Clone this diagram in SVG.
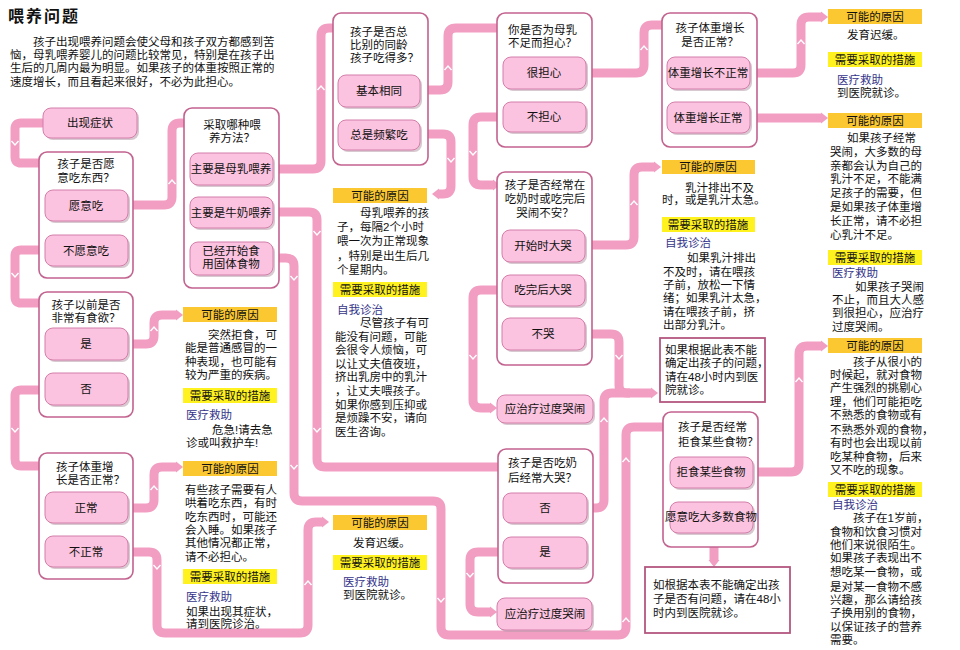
<svg xmlns="http://www.w3.org/2000/svg" width="960" height="650" viewBox="0 0 960 650">
<defs>
<style>
.t{font-family:"Liberation Sans","Noto Sans CJK SC",sans-serif;font-size:11.5px;fill:#111}
.c{text-anchor:middle}
.h{font-family:"Liberation Serif","Noto Sans CJK SC",serif;font-size:16px;font-weight:bold;letter-spacing:2px;fill:#111}
.bl{fill:#34348a}
.box{fill:#fff;stroke:#c2628e;stroke-width:1.6}
.nb{fill:#fff;stroke:#b4577f;stroke-width:1.8}
.btn{fill:#fbc3df;stroke:#d47fab;stroke-width:1}
.sh{fill:#b89aaa;opacity:.55}
.l1{fill:#fbc832}
.l2{fill:#fff21f}
.cn{fill:none;stroke:#f19ec2;stroke-width:9;marker-end:url(#ah)}
.cx{fill:none;stroke:#f19ec2;stroke-width:9}
.ch{fill:none;stroke:#fff;stroke-width:1.4}
</style>
<marker id="ah" markerUnits="userSpaceOnUse" markerWidth="8" markerHeight="12" refX="0" refY="6" orient="auto"><path d="M0,0.5 L7,6 L0,11.5 Z" fill="#f19ec2"/></marker>
</defs>
<rect width="960" height="650" fill="#fff"/>

<g id="intro">
<text class="h" x="8" y="22">喂养问题</text>
<text class="t" x="33" y="46">孩子出现喂养问题会使父母和孩子双方都感到苦</text>
<text class="t" x="10" y="59">恼，母乳喂养婴儿的问题比较常见，特别是在孩子出</text>
<text class="t" x="10" y="72">生后的几周内最为明显。如果孩子的体重按照正常的</text>
<text class="t" x="10" y="86">速度增长，而且看起来很好，不必为此担心。</text>
</g>

<g id="connectors">
<path class="cn" d="M43,123 H21 Q15,123 15,129 V157 Q15,163 21,163 H49"/>
<path class="cn" d="M45,250 H21 Q15,250 15,256 V297 Q15,303 21,303 H48"/>
<path class="cn" d="M45,390 H21 Q15,390 15,396 V459 Q15,466 21,466 H48"/>
<path class="cn" d="M128,205 H164 Q172,205 172,197 V131 Q172,123 180,123 H187"/>
<path class="cn" d="M128,344 H146 Q154,344 154,336 V323 Q154,315 162,315 H176"/>
<path class="cn" d="M128,508 H146 Q154,508 154,500 V475 Q154,467 162,467 H176"/>
<path class="cn" d="M128,552 H149 Q157,552 157,560 V625 Q157,633 165,633 H300 Q308,633 308,625 V530 Q308,522 316,522 H322"/>
<path class="cn" d="M273,169 H313 Q321,169 321,161 V36 Q321,28 329,28 H336"/>
<path class="cn" d="M273,212 H309 Q317,212 317,220 V459 Q317,467 325,467 H498"/>
<path class="cn" d="M273,258 H286 Q294,258 294,266 V493 Q294,501 302,501 H433 Q441,501 441,509 V627 Q441,635 449,635 H618 Q626,635 626,627 V435 Q626,427 634,427 H666"/>
<path class="cn" d="M420,90 H440 Q448,90 448,82 V36 Q448,28 456,28 H499"/>
<path class="cn" d="M420,134 H443 Q451,134 451,142 V186 Q451,194 443,194 H439"/>
<path class="cn" d="M586,73 H636 Q644,73 644,65 V33 Q644,25 652,25 H661"/>
<path class="cn" d="M503,117 H481 Q473,117 473,125 V177 Q473,185 481,185 H493"/>
<path class="cn" d="M585,245 H626 Q634,245 634,237 V175 Q634,167 642,167 H654"/>
<path class="cn" d="M502,290 H481 Q473,290 473,298 V400 Q473,408 481,408 H490"/>
<path class="cn" d="M585,334 H611 Q619,334 619,342 V385 Q619,393 627,393 H651"/>
<path class="cx" d="M587,508 H596 Q604,508 604,500 V401 Q604,393 612,393 H630"/>
<path class="cn" d="M503,552 H478 Q470,552 470,560 V604 Q470,612 478,612 H490"/>
<path class="cn" d="M750,73 H793 Q801,73 801,65 V25 Q801,17 809,17 H821"/>
<path class="cn" d="M750,118 H821"/>
<path class="cn" d="M753,472 H791 Q799,472 799,464 V354 Q799,346 807,346 H821"/>
<path class="cn" d="M714,533 V560"/>
<g class="ch">
<path d="M11.5,141 L15,145 L18.5,141"/>
<path d="M11.5,273 L15,277 L18.5,273"/>
<path d="M11.5,428 L15,432 L18.5,428"/>
<path d="M168.5,184 L172,180 L175.5,184"/>
<path d="M317.5,90 L321,86 L324.5,90"/>
<path d="M313.5,231 L317,235 L320.5,231"/>
<path d="M290.5,276 L294,280 L297.5,276"/>
<path d="M290.5,465 L294,469 L297.5,465"/>
<path d="M313.5,428 L317,432 L320.5,428"/>
<path d="M304.5,585 L308,581 L311.5,585"/>
<path d="M153.5,565 L157,569 L160.5,565"/>
<path d="M150.5,331 L154,327 L157.5,331"/>
<path d="M150.5,490 L154,486 L157.5,490"/>
<path d="M444.5,70 L448,66 L451.5,70"/>
<path d="M447.5,158 L451,162 L454.5,158"/>
<path d="M469.5,151 L473,155 L476.5,151"/>
<path d="M640.5,50 L644,46 L647.5,50"/>
<path d="M630.5,205 L634,201 L637.5,205"/>
<path d="M469.5,355 L473,359 L476.5,355"/>
<path d="M615.5,355 L619,359 L622.5,355"/>
<path d="M437.5,598 L441,602 L444.5,598"/>
<path d="M622.5,622 L626,618 L629.5,622"/>
<path d="M622.5,462 L626,458 L629.5,462"/>
<path d="M600.5,422 L604,418 L607.5,422"/>
<path d="M466.5,573 L470,577 L473.5,573"/>
<path d="M797.5,44 L801,40 L804.5,44"/>
<path d="M795.5,382 L799,378 L802.5,382"/>
</g>
</g>

<g id="n-start">
<rect class="sh" x="45" y="110" width="94" height="30" rx="8"/>
<rect class="btn" x="43" y="108" width="94" height="30" rx="8"/>
<text class="t c" x="90" y="127">出现症状</text>
</g>

<g id="n-appetite">
<rect class="box" x="39" y="152" width="94" height="126" rx="8"/>
<text class="t c" x="86" y="168">孩子是否愿</text>
<text class="t c" x="86" y="182">意吃东西？</text>
<rect class="sh" x="47" y="192" width="83" height="31" rx="8"/>
<rect class="btn" x="45" y="190" width="83" height="31" rx="8"/>
<text class="t c" x="86" y="210">愿意吃</text>
<rect class="sh" x="47" y="237" width="83" height="31" rx="8"/>
<rect class="btn" x="45" y="235" width="83" height="31" rx="8"/>
<text class="t c" x="86" y="255">不愿意吃</text>
</g>

<g id="n-before">
<rect class="box" x="39" y="292" width="94" height="125" rx="8"/>
<text class="t c" x="86" y="309">孩子以前是否</text>
<text class="t c" x="86" y="322">非常有食欲？</text>
<rect class="sh" x="47" y="330" width="83" height="32" rx="8"/>
<rect class="btn" x="45" y="328" width="83" height="32" rx="8"/>
<text class="t c" x="86" y="348">是</text>
<rect class="sh" x="47" y="375" width="83" height="32" rx="8"/>
<rect class="btn" x="45" y="373" width="83" height="32" rx="8"/>
<text class="t c" x="86" y="393">否</text>
</g>

<g id="n-weight">
<rect class="box" x="39" y="453" width="94" height="126" rx="8"/>
<text class="t" x="56" y="471">孩子体重增</text>
<text class="t" x="56" y="484">长是否正常？</text>
<rect class="sh" x="47" y="494" width="83" height="31" rx="8"/>
<rect class="btn" x="45" y="492" width="83" height="31" rx="8"/>
<text class="t c" x="86" y="512">正常</text>
<rect class="sh" x="47" y="538" width="83" height="31" rx="8"/>
<rect class="btn" x="45" y="536" width="83" height="31" rx="8"/>
<text class="t c" x="86" y="556">不正常</text>
</g>

<g id="n-method">
<rect class="box" x="184" y="108" width="95" height="180" rx="8"/>
<text class="t c" x="232" y="129">采取哪种喂</text>
<text class="t c" x="232" y="142">养方法？</text>
<rect class="sh" x="192" y="155" width="83" height="32" rx="8"/>
<rect class="btn" x="190" y="153" width="83" height="32" rx="8"/>
<text class="t c" x="231" y="173">主要是母乳喂养</text>
<rect class="sh" x="192" y="199" width="83" height="31" rx="8"/>
<rect class="btn" x="190" y="197" width="83" height="31" rx="8"/>
<text class="t c" x="231" y="217">主要是牛奶喂养</text>
<rect class="sh" x="192" y="244" width="83" height="33" rx="8"/>
<rect class="btn" x="190" y="242" width="83" height="33" rx="8"/>
<text class="t c" x="231" y="255">已经开始食</text>
<text class="t c" x="231" y="268">用固体食物</text>
</g>

<g id="n-eatmore">
<rect class="box" x="333" y="13" width="95" height="152" rx="8"/>
<text class="t" x="350" y="36">孩子是否总</text>
<text class="t" x="350" y="49">比别的同龄</text>
<text class="t" x="350" y="62">孩子吃得多？</text>
<rect class="sh" x="340" y="77" width="82" height="32" rx="8"/>
<rect class="btn" x="338" y="75" width="82" height="32" rx="8"/>
<text class="t c" x="379" y="95">基本相同</text>
<rect class="sh" x="340" y="122" width="82" height="30" rx="8"/>
<rect class="btn" x="338" y="120" width="82" height="30" rx="8"/>
<text class="t c" x="379" y="139">总是频繁吃</text>
</g>

<g id="n-worry">
<rect class="box" x="497" y="13" width="95" height="134" rx="8"/>
<text class="t" x="508" y="34">你是否为母乳</text>
<text class="t" x="508" y="47">不足而担心？</text>
<rect class="sh" x="505" y="59" width="83" height="32" rx="8"/>
<rect class="btn" x="503" y="57" width="83" height="32" rx="8"/>
<text class="t c" x="544" y="77">很担心</text>
<rect class="sh" x="505" y="104" width="83" height="30" rx="8"/>
<rect class="btn" x="503" y="102" width="83" height="30" rx="8"/>
<text class="t c" x="544" y="121">不担心</text>
</g>

<g id="n-growth">
<rect class="box" x="662" y="13" width="95" height="134" rx="8"/>
<text class="t c" x="710" y="32">孩子体重增长</text>
<text class="t c" x="710" y="46">是否正常？</text>
<rect class="sh" x="669" y="59" width="83" height="32" rx="8"/>
<rect class="btn" x="667" y="57" width="83" height="32" rx="8"/>
<text class="t c" x="708" y="77">体重增长不正常</text>
<rect class="sh" x="669" y="104" width="83" height="31" rx="8"/>
<rect class="btn" x="667" y="102" width="83" height="31" rx="8"/>
<text class="t c" x="708" y="122">体重增长正常</text>
</g>

<g id="n-crying">
<rect class="box" x="497" y="172" width="95" height="193" rx="8"/>
<text class="t c" x="545" y="189">孩子是否经常在</text>
<text class="t c" x="545" y="203">吃奶时或吃完后</text>
<text class="t c" x="545" y="217">哭闹不安？</text>
<rect class="sh" x="504" y="232" width="83" height="32" rx="8"/>
<rect class="btn" x="502" y="230" width="83" height="32" rx="8"/>
<text class="t c" x="543" y="250">开始时大哭</text>
<rect class="sh" x="504" y="277" width="83" height="31" rx="8"/>
<rect class="btn" x="502" y="275" width="83" height="31" rx="8"/>
<text class="t c" x="543" y="294">吃完后大哭</text>
<rect class="sh" x="504" y="320" width="83" height="32" rx="8"/>
<rect class="btn" x="502" y="318" width="83" height="32" rx="8"/>
<text class="t c" x="543" y="338">不哭</text>
</g>

<g id="n-treat1">
<rect class="sh" x="499" y="397" width="96" height="28" rx="8"/>
<rect class="btn" x="497" y="395" width="96" height="28" rx="8"/>
<text class="t c" x="545" y="413">应治疗过度哭闹</text>
</g>

<g id="n-aftercry">
<rect class="box" x="498" y="449" width="95" height="134" rx="8"/>
<text class="t" x="508" y="467">孩子是否吃奶</text>
<text class="t" x="508" y="482">后经常大哭？</text>
<rect class="sh" x="505" y="495" width="84" height="30" rx="8"/>
<rect class="btn" x="503" y="493" width="84" height="30" rx="8"/>
<text class="t c" x="545" y="512">否</text>
<rect class="sh" x="505" y="539" width="84" height="31" rx="8"/>
<rect class="btn" x="503" y="537" width="84" height="31" rx="8"/>
<text class="t c" x="545" y="556">是</text>
</g>

<g id="n-treat2">
<rect class="sh" x="499" y="600" width="95" height="32" rx="8"/>
<rect class="btn" x="497" y="598" width="95" height="32" rx="8"/>
<text class="t c" x="545" y="618">应治疗过度哭闹</text>
</g>

<g id="n-refuse">
<rect class="box" x="663" y="412" width="95" height="135" rx="8"/>
<text class="t" x="678" y="431">孩子是否经常</text>
<text class="t" x="678" y="446">拒食某些食物？</text>
<rect class="sh" x="672" y="459" width="83" height="31" rx="8"/>
<rect class="btn" x="670" y="457" width="83" height="31" rx="8"/>
<text class="t c" x="711" y="476">拒食某些食物</text>
<rect class="sh" x="672" y="504" width="83" height="31" rx="8"/>
<rect class="btn" x="670" y="502" width="83" height="31" rx="8"/>
<text class="t c" x="711" y="521">愿意吃大多数食物</text>
</g>

<g id="n-note1">
<rect class="nb" x="660" y="338" width="105" height="64"/>
<text class="t" x="665" y="354">如果根据此表不能</text>
<text class="t" x="665" y="367">确定出孩子的问题，</text>
<text class="t" x="665" y="381">请在48小时内到医</text>
<text class="t" x="665" y="394">院就诊。</text>
</g>

<g id="n-note2">
<rect class="nb" x="645" y="567" width="145" height="66"/>
<text class="t" x="653" y="589">如根据本表不能确定出孩</text>
<text class="t" x="653" y="603">子是否有问题，请在48小</text>
<text class="t" x="653" y="617">时内到医院就诊。</text>
</g>

<g id="i-sudden">
<rect class="l1" x="183" y="307" width="94" height="15"/>
<text class="t c" x="230" y="319">可能的原因</text>
<text class="t" x="208" y="339">突然拒食，可</text>
<text class="t" x="185" y="352">能是普通感冒的一</text>
<text class="t" x="185" y="366">种表现，也可能有</text>
<text class="t" x="185" y="379">较为严重的疾病。</text>
<rect class="l2" x="183" y="388" width="94" height="15"/>
<text class="t c" x="230" y="400">需要采取的措施</text>
<text class="t bl" x="186" y="419">医疗救助</text>
<text class="t" x="212" y="434">危急!请去急</text>
<text class="t" x="186" y="447">诊或叫救护车!</text>
</g>

<g id="i-coax">
<rect class="l1" x="183" y="461" width="94" height="15"/>
<text class="t c" x="230" y="473">可能的原因</text>
<text class="t" x="185" y="494">有些孩子需要有人</text>
<text class="t" x="185" y="507">哄着吃东西，有时</text>
<text class="t" x="185" y="521">吃东西时，可能还</text>
<text class="t" x="185" y="534">会入睡。如果孩子</text>
<text class="t" x="185" y="547">其他情况都正常，</text>
<text class="t" x="185" y="561">请不必担心。</text>
<rect class="l2" x="183" y="569" width="94" height="15"/>
<text class="t c" x="230" y="581">需要采取的措施</text>
<text class="t bl" x="186" y="601">医疗救助</text>
<text class="t" x="186" y="616">如果出现其症状，</text>
<text class="t" x="186" y="628">请到医院诊治。</text>
</g>

<g id="i-frequent">
<rect class="l1" x="333" y="188" width="94" height="15"/>
<text class="t c" x="380" y="200">可能的原因</text>
<text class="t" x="360" y="217">母乳喂养的孩</text>
<text class="t" x="337" y="231">子，每隔2个小时</text>
<text class="t" x="337" y="245">喂一次为正常现象</text>
<text class="t" x="337" y="260">，特别是出生后几</text>
<text class="t" x="337" y="274">个星期内。</text>
<rect class="l2" x="333" y="282" width="94" height="15"/>
<text class="t c" x="380" y="294">需要采取的措施</text>
<text class="t bl" x="337" y="314">自我诊治</text>
<text class="t" x="360" y="327">尽管孩子有可</text>
<text class="t" x="335" y="341">能没有问题，可能</text>
<text class="t" x="335" y="354">会很令人烦恼，可</text>
<text class="t" x="335" y="368">以让丈夫值夜班，</text>
<text class="t" x="335" y="381">挤出乳房中的乳汁</text>
<text class="t" x="335" y="395">，让丈夫喂孩子。</text>
<text class="t" x="335" y="409">如果你感到压抑或</text>
<text class="t" x="335" y="422">是烦躁不安，请向</text>
<text class="t" x="335" y="436">医生咨询。</text>
</g>

<g id="i-delay1">
<rect class="l1" x="333" y="515" width="94" height="15"/>
<text class="t c" x="380" y="527">可能的原因</text>
<text class="t" x="353" y="547">发育迟缓。</text>
<rect class="l2" x="333" y="555" width="94" height="15"/>
<text class="t c" x="380" y="567">需要采取的措施</text>
<text class="t bl" x="343" y="586">医疗救助</text>
<text class="t" x="343" y="599">到医院就诊。</text>
</g>

<g id="i-milkflow">
<rect class="l1" x="662" y="160" width="93" height="14"/>
<text class="t c" x="708" y="171">可能的原因</text>
<text class="t" x="685" y="192">乳汁排出不及</text>
<text class="t" x="662" y="204">时，或是乳汁太急。</text>
<rect class="l2" x="662" y="217" width="93" height="15"/>
<text class="t c" x="708" y="229">需要采取的措施</text>
<text class="t bl" x="665" y="247">自我诊治</text>
<text class="t" x="687" y="262">如果乳汁排出</text>
<text class="t" x="663" y="276">不及时，请在喂孩</text>
<text class="t" x="663" y="289">子前，放松一下情</text>
<text class="t" x="663" y="302">绪；如果乳汁太急，</text>
<text class="t" x="663" y="316">请在喂孩子前，挤</text>
<text class="t" x="663" y="329">出部分乳汁。</text>
</g>

<g id="i-delay2">
<rect class="l1" x="828" y="9" width="94" height="15"/>
<text class="t c" x="875" y="21">可能的原因</text>
<text class="t" x="847" y="39">发育迟缓。</text>
<rect class="l2" x="828" y="52" width="94" height="15"/>
<text class="t c" x="875" y="64">需要采取的措施</text>
<text class="t bl" x="837" y="84">医疗救助</text>
<text class="t" x="837" y="97">到医院就诊。</text>
</g>

<g id="i-normal">
<rect class="l1" x="828" y="113" width="94" height="15"/>
<text class="t c" x="875" y="125">可能的原因</text>
<text class="t" x="847" y="142">如果孩子经常</text>
<text class="t" x="830" y="156">哭闹，大多数的母</text>
<text class="t" x="830" y="170">亲都会认为自己的</text>
<text class="t" x="830" y="183">乳汁不足，不能满</text>
<text class="t" x="830" y="197">足孩子的需要，但</text>
<text class="t" x="830" y="211">是如果孩子体重增</text>
<text class="t" x="830" y="225">长正常，请不必担</text>
<text class="t" x="830" y="239">心乳汁不足。</text>
<rect class="l2" x="828" y="250" width="94" height="15"/>
<text class="t c" x="875" y="262">需要采取的措施</text>
<text class="t bl" x="832" y="277">医疗救助</text>
<text class="t" x="855" y="291">如果孩子哭闹</text>
<text class="t" x="832" y="304">不止，而且大人感</text>
<text class="t" x="832" y="317">到很担心，应治疗</text>
<text class="t" x="832" y="331">过度哭闹。</text>
</g>

<g id="i-picky">
<rect class="l1" x="828" y="338" width="94" height="15"/>
<text class="t c" x="875" y="350">可能的原因</text>
<text class="t" x="853" y="366">孩子从很小的</text>
<text class="t" x="830" y="379">时候起，就对食物</text>
<text class="t" x="830" y="392">产生强烈的挑剔心</text>
<text class="t" x="830" y="406">理，他们可能拒吃</text>
<text class="t" x="830" y="419">不熟悉的食物或有</text>
<text class="t" x="830" y="434">不熟悉外观的食物，</text>
<text class="t" x="830" y="447">有时也会出现以前</text>
<text class="t" x="830" y="461">吃某种食物，后来</text>
<text class="t" x="830" y="474">又不吃的现象。</text>
<rect class="l2" x="828" y="482" width="94" height="15"/>
<text class="t c" x="875" y="494">需要采取的措施</text>
<text class="t bl" x="832" y="509">自我诊治</text>
<text class="t" x="853" y="522">孩子在1岁前，</text>
<text class="t" x="830" y="536">食物和饮食习惯对</text>
<text class="t" x="830" y="549">他们来说很陌生。</text>
<text class="t" x="830" y="562">如果孩子表现出不</text>
<text class="t" x="830" y="576">想吃某一食物，或</text>
<text class="t" x="830" y="591">是对某一食物不感</text>
<text class="t" x="830" y="604">兴趣，那么请给孩</text>
<text class="t" x="830" y="617">子换用别的食物，</text>
<text class="t" x="830" y="631">以保证孩子的营养</text>
<text class="t" x="830" y="644">需要。</text>
</g>
</svg>
